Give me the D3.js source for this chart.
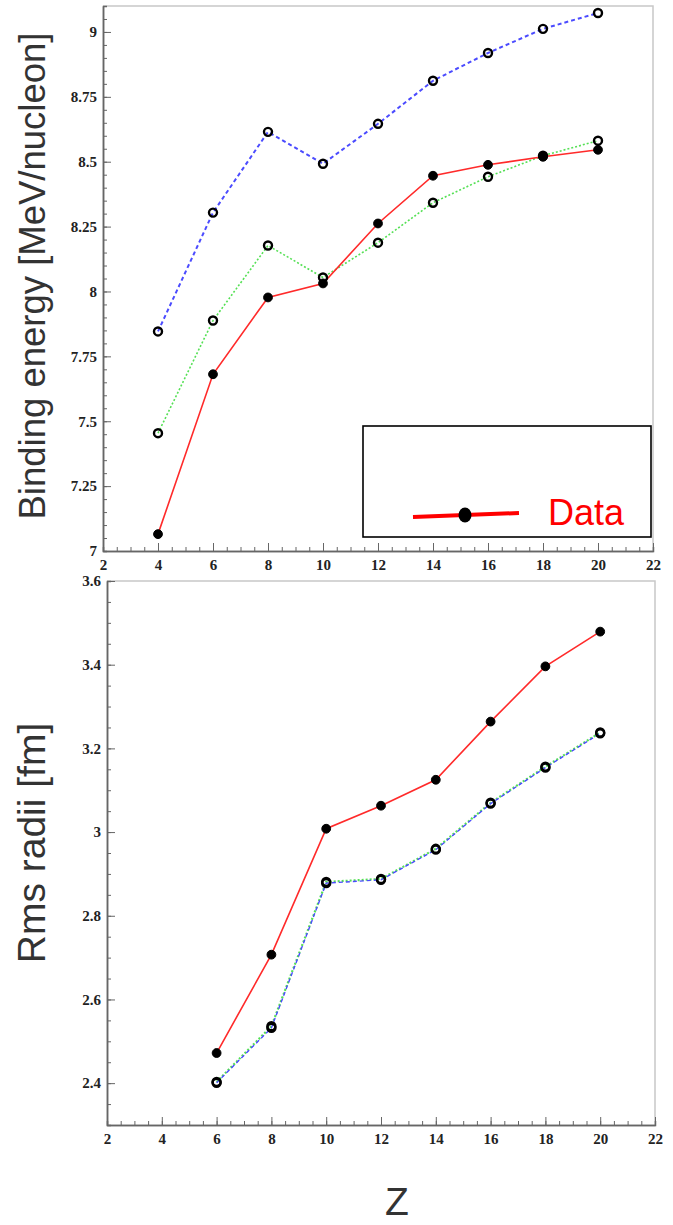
<!DOCTYPE html>
<html lang="en">
<head>
    <meta charset="UTF-8">
    <title>Binding energy / Rms radii</title>
    <script src="https://d3js.org/d3.v7.min.js"></script>
    <style>
    body{
        margin: 0;
        background: #fff;
    }
    .axis path{
        fill: none;
        stroke: #666;
        stroke-width: 1.5;
    }
    .axis line{
        stroke: #666;
        stroke-width: 1;
    }
    .axis text{
        font-family: "Liberation Serif", "Times New Roman", serif;
        font-weight: bold;
        font-size: 15px;
        fill: #222;
    }
    .title{
        font-family: "Liberation Sans", Arial, sans-serif;
        fill: #333;
    }
    </style>
</head>
<body>
    <script>
    var width = 673;
    var height = 1225;

    // data
    var zValues = [4, 6, 8, 10, 12, 14, 16, 18, 20];
    var beData  = [7.065, 7.681, 7.977, 8.031, 8.262, 8.446, 8.488, 8.519, 8.546];
    var beGreen = [7.454, 7.888, 8.177, 8.054, 8.188, 8.342, 8.442, 8.523, 8.581];
    var beBlue  = [7.846, 8.304, 8.615, 8.492, 8.646, 8.812, 8.919, 9.012, 9.073];

    var zRadii    = [6, 8, 10, 12, 14, 16, 18, 20];
    var rmsData   = [2.472, 2.707, 3.008, 3.063, 3.125, 3.264, 3.396, 3.479];
    var rmsGreen  = [2.403, 2.536, 2.881, 2.888, 2.960, 3.070, 3.156, 3.238];
    var rmsBlue   = [2.401, 2.532, 2.878, 2.886, 2.958, 3.068, 3.154, 3.236];

    // tick labels
    var xTicks = [2, 4, 6, 8, 10, 12, 14, 16, 18, 20, 22];
    var beTicks = [7, 7.25, 7.5, 7.75, 8, 8.25, 8.5, 8.75, 9];
    var rmsTicks = [2.4, 2.6, 2.8, 3, 3.2, 3.4, 3.6];

    var svg = d3.select("body")
        .append("svg")
        .attr("width", width)
        .attr("height", height);

    svg.append("rect")
        .attr("width", width)
        .attr("height", height)
        .attr("fill", "#fff");

    function zip(xs, ys) {
        return xs.map(function(x, i) { return {x: x, y: ys[i]}; });
    }

    // one panel: box, axes with inner ticks, series
    function drawPanel(p) {
        var x = d3.scaleLinear().domain([2, 22]).range([p.left, p.right]);
        var y = d3.scaleLinear().domain(p.yDomain).range([p.bottom, p.top]);

        // grey frame top/right
        svg.append("path")
            .attr("d", "M" + p.left + "," + p.top + "H" + p.right + "V" + p.bottom)
            .attr("fill", "none")
            .attr("stroke", "#c8c8c8")
            .attr("stroke-width", 1.5);

        // minor ticks
        svg.append("g")
            .attr("class", "axis")
            .attr("transform", "translate(0," + p.bottom + ")")
            .call(d3.axisBottom(x).tickValues(d3.range(4, 45).map(function(i) { return i / 2; }))
                .tickSize(-4).tickFormat(""));
        svg.append("g")
            .attr("class", "axis")
            .attr("transform", "translate(" + p.left + ",0)")
            .call(d3.axisLeft(y).tickValues(p.minor).tickSize(-4).tickFormat(""));

        // major ticks + labels
        svg.append("g")
            .attr("class", "axis")
            .attr("transform", "translate(0," + p.bottom + ")")
            .call(d3.axisBottom(x).tickValues(xTicks).tickSizeInner(-8).tickSizeOuter(0).tickPadding(6)
                .tickFormat(function(d) { return String(d); }))
            .selectAll("text").attr("dy", "0.85em");
        svg.append("g")
            .attr("class", "axis")
            .attr("transform", "translate(" + p.left + ",0)")
            .call(d3.axisLeft(y).tickValues(p.ticks).tickSizeInner(-8).tickSizeOuter(0).tickPadding(6)
                .tickFormat(function(d) { return String(d); }));

        var line = d3.line()
            .x(function(d) { return x(d.x); })
            .y(function(d) { return y(d.y); });

        p.series.forEach(function(s) {
            svg.append("path")
                .datum(s.points)
                .attr("d", line)
                .attr("fill", "none")
                .attr("stroke", s.color)
                .attr("stroke-width", s.width)
                .attr("stroke-dasharray", s.dash);
        });

        p.series.forEach(function(s) {
            svg.append("g")
                .selectAll("circle")
                .data(s.points)
                .join("circle")
                .attr("cx", function(d) { return x(d.x); })
                .attr("cy", function(d) { return y(d.y); })
                .attr("r", s.filled ? 4.4 : 4)
                .attr("fill", s.filled ? "#000" : "#fff")
                .attr("fill-opacity", s.filled ? 1 : 0)
                .attr("stroke", "#000")
                .attr("stroke-width", s.filled ? 1 : 2.4);
        });

        return {x: x, y: y};
    }

    // top panel
    var top = drawPanel({
        left: 103, right: 653, top: 6, bottom: 551,
        yDomain: [7, 9.1],
        ticks: beTicks,
        minor: d3.range(140, 183).map(function(i) { return i / 20; }),
        series: [
            {points: zip(zValues, beBlue), color: "#4b4bff", width: 2, dash: "4,3", filled: false},
            {points: zip(zValues, beGreen), color: "#55e055", width: 1.6, dash: "2,2", filled: false},
            {points: zip(zValues, beData), color: "#ff2a2a", width: 1.6, dash: null, filled: true}
        ]
    });

    // bottom panel
    var bottom = drawPanel({
        left: 107, right: 655, top: 581, bottom: 1125,
        yDomain: [2.3, 3.6],
        ticks: rmsTicks,
        minor: d3.range(46, 73).map(function(i) { return i / 20; }),
        series: [
            {points: zip(zRadii, rmsGreen), color: "#55e055", width: 2.2, dash: "2,2", filled: false},
            {points: zip(zRadii, rmsBlue), color: "#4b4bff", width: 1.4, dash: "4,3", filled: false},
            {points: zip(zRadii, rmsData), color: "#ff2a2a", width: 1.6, dash: null, filled: true}
        ]
    });

    // axis titles
    svg.append("text")
        .attr("class", "title")
        .attr("transform", "translate(45,276) rotate(-90)")
        .attr("text-anchor", "middle")
        .style("font-size", "36.5px")
        .text("Binding energy [MeV/nucleon]");

    svg.append("text")
        .attr("class", "title")
        .attr("transform", "translate(45,843) rotate(-90)")
        .attr("text-anchor", "middle")
        .style("font-size", "39px")
        .text("Rms radii [fm]");

    svg.append("text")
        .attr("class", "title")
        .attr("x", 397)
        .attr("y", 1215)
        .attr("text-anchor", "middle")
        .style("font-size", "39px")
        .text("Z");

    // legend
    var legend = svg.append("g").attr("transform", "translate(363,426)");
    legend.append("rect")
        .attr("width", 288)
        .attr("height", 111)
        .attr("fill", "#fff")
        .attr("stroke", "#000")
        .attr("stroke-width", 1.6);
    legend.append("line")
        .attr("x1", 50).attr("y1", 91)
        .attr("x2", 156).attr("y2", 87)
        .attr("stroke", "#ff0000")
        .attr("stroke-width", 4);
    legend.append("ellipse")
        .attr("cx", 102).attr("cy", 89)
        .attr("rx", 6.5).attr("ry", 7.5)
        .attr("fill", "#000");
    legend.append("text")
        .attr("x", 185)
        .attr("y", 99)
        .style("font-family", "'Liberation Sans', Arial, sans-serif")
        .style("font-size", "36px")
        .attr("fill", "#ff0000")
        .text("Data");
    </script>
</body>
</html>
